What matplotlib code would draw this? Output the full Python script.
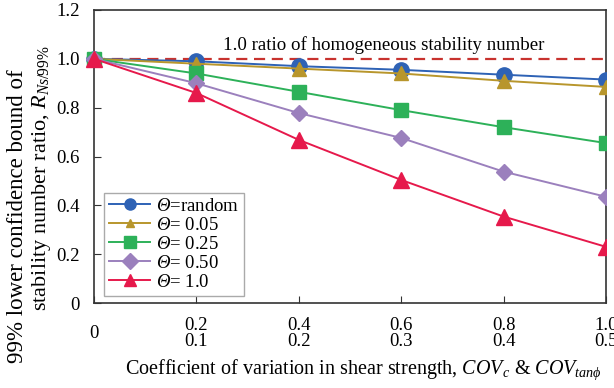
import matplotlib.pyplot as plt
from matplotlib.patches import Rectangle

plt.rcParams['font.family'] = ['Liberation Serif', 'DejaVu Serif']
plt.rcParams['mathtext.fontset'] = 'custom'
plt.rcParams['mathtext.rm'] = 'Liberation Serif'
plt.rcParams['mathtext.it'] = 'Liberation Serif:italic'
plt.rcParams['mathtext.bf'] = 'Liberation Serif:bold'
# mathtext forces capital Greek upright in \mathit, so go through \mathcal
plt.rcParams['mathtext.cal'] = 'Liberation Serif:italic'

cov = [0, 0.2, 0.4, 0.6, 0.8, 1.0]
tick_labels = ['0', '0.2\n0.1', '0.4\n0.2', '0.6\n0.3', '0.8\n0.4', '1.0\n0.5']

ratio_random = [1.0, 0.99, 0.97, 0.955, 0.935, 0.915]
ratio_005 = [1.0, 0.98, 0.96, 0.94, 0.91, 0.885]
ratio_025 = [1.0, 0.94, 0.865, 0.79, 0.72, 0.655]
ratio_050 = [1.0, 0.90, 0.778, 0.676, 0.538, 0.435]
ratio_100 = [1.0, 0.86, 0.668, 0.504, 0.354, 0.23]

series = [
    (ratio_random, r'$\mathcal{Θ}$=random', '#2e62b5', 'o', 11),
    (ratio_005, r'$\mathcal{Θ}$= 0.05', '#b8962c', '^', 10),
    (ratio_025, r'$\mathcal{Θ}$= 0.25', '#2db159', 's', 10),
    (ratio_050, r'$\mathcal{Θ}$= 0.50', '#9b80bd', 'D', 8),
    (ratio_100, r'$\mathcal{Θ}$= 1.0', '#e6194b', '^', 11),
]

fig = plt.figure(figsize=(6.14, 3.88), dpi=100)
ax = fig.add_axes([94 / 614, 85 / 388, 512 / 614, 293 / 388])

# clip the markers at the right spine only, like the original
clip = Rectangle((-0.05, -0.05), 1.05, 1.1, transform=ax.transAxes)

ax.axhline(1.0, color='#c8322e', lw=1.6, ls=(0, (5, 3)), zorder=1)

for vals, label, color, marker, ms in series:
    line, = ax.plot(cov, vals, color=color, marker=marker, ms=ms, lw=1.4,
                    label=label, zorder=3)
    line.set_clip_path(clip)

ax.text(0.565, 1.057, '1.0 ratio of homogeneous stability number',
        ha='center', va='center', fontsize=13.6)

ax.set_xlim(0, 1.0)
ax.set_ylim(0, 1.2)
ax.set_xticks(cov)
ax.set_xticklabels(tick_labels, fontsize=13.5, linespacing=0.95)
for t in ax.get_xticklabels():
    t.set_verticalalignment('center')
ax.set_yticks([0, 0.2, 0.4, 0.6, 0.8, 1.0, 1.2])
ax.set_yticklabels(['0', '0.2', '0.4', '0.6', '0.8', '1.0', '1.2'], fontsize=13.5)
ax.tick_params(axis='x', direction='in', length=5, pad=22, colors='#333333',
               labelcolor='black')
ax.tick_params(axis='y', direction='in', length=5, pad=10, colors='#333333',
               labelcolor='black')
for s in ax.spines.values():
    s.set_color('#333333')
    s.set_linewidth(1.2)

leg = ax.legend(loc='lower left', bbox_to_anchor=(0.02, 0.025), fontsize=13.5,
                fancybox=False, edgecolor='#aaaaaa', framealpha=1,
                handlelength=2.2, handletextpad=0.3, labelspacing=0.1,
                borderpad=0.25, borderaxespad=0)
leg.get_frame().set_linewidth(1.0)
for h, (_, _, _, marker, ms) in zip(leg.legend_handles, series):
    h.set_markersize(6 if ms == 10 and marker == '^' else 8)

fig.text(0.028, 1 - 216 / 388, '99% lower confidence bound of',
         rotation=90, ha='center', va='center', fontsize=16.5)
fig.text(0.068, 1 - 178 / 388, r'stability number ratio, $R_{Ns/99\%}$',
         rotation=90, ha='center', va='center', fontsize=16)
fig.text(363 / 614, 1 - 370 / 388,
         r'Coefficient of variation in shear strength, $COV_c$ & $COV_{tanϕ}$',
         ha='center', va='center', fontsize=14.5)

fig.savefig('out.png', dpi=100)
